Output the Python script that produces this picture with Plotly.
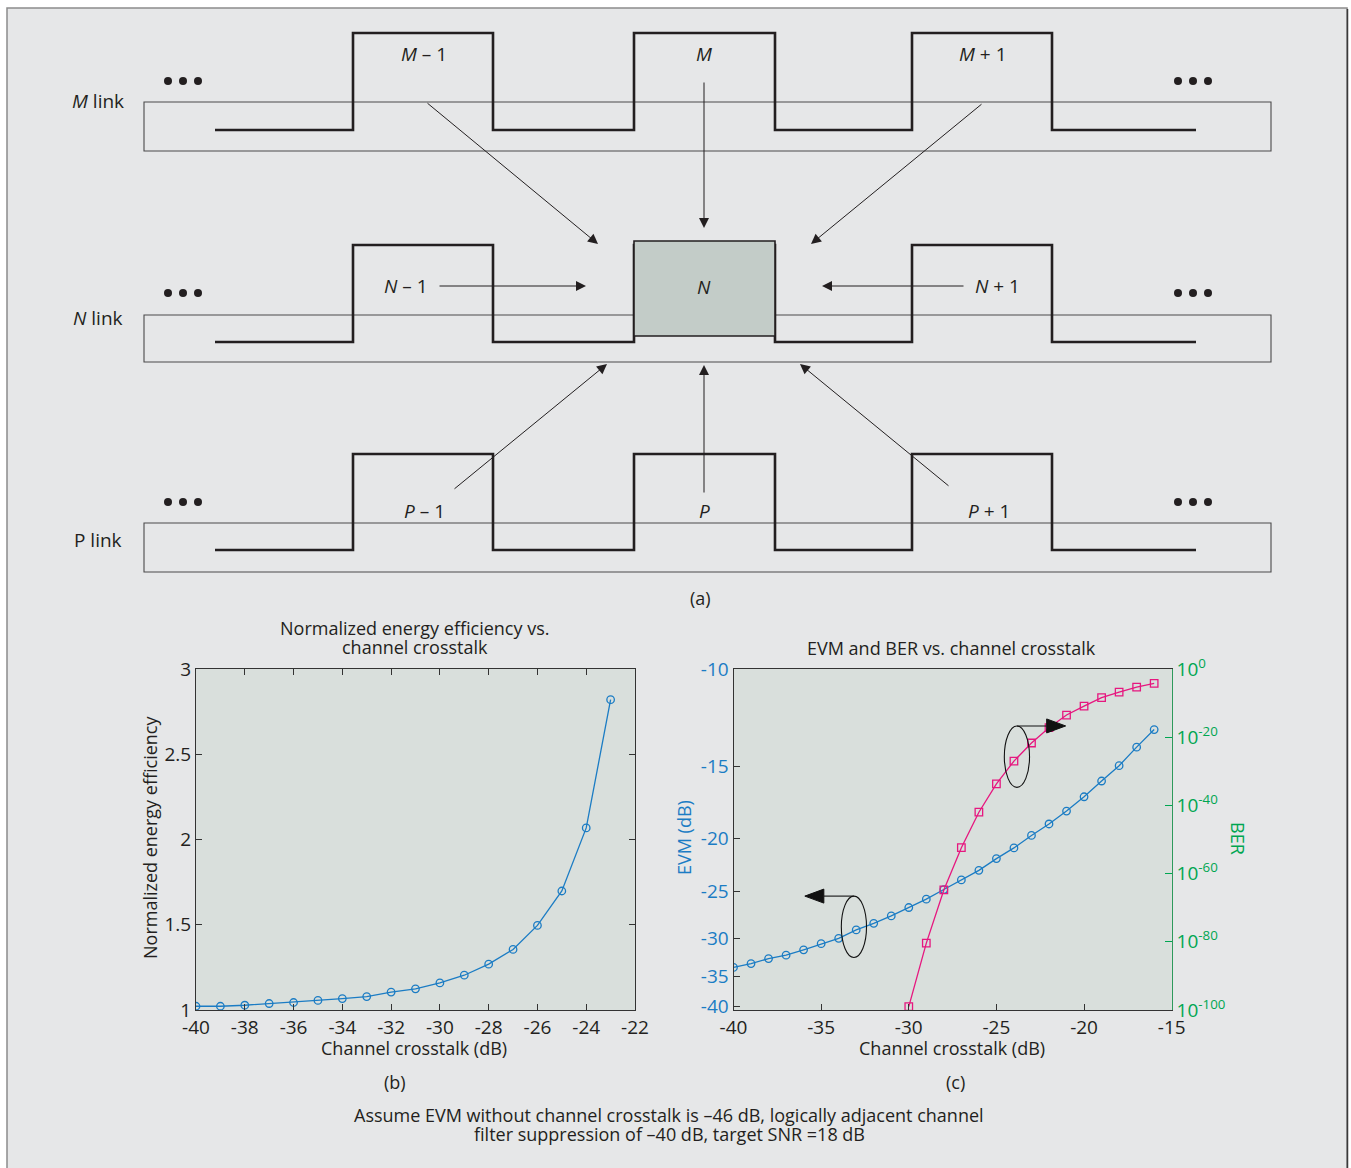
import numpy as np
import plotly.graph_objects as go

W, H = 1351, 1168
FONT = "Open Sans"
INK = "#231f20"
BLUE = "#1b7cc4"
PINK = "#e6177f"
GREEN = "#00a651"
PANEL = "#e6e7e8"
PLOTBG = "#d9dfdc"

# ---------------- data: panel (b) ----------------
crosstalk_b = [-40, -39, -38, -37, -36, -35, -34, -33, -32, -31, -30, -29, -28, -27, -26, -25, -24, -23]
energy_eff = [1.022, 1.022, 1.028, 1.038, 1.044, 1.056, 1.067, 1.079, 1.105, 1.124,
              1.159, 1.204, 1.269, 1.355, 1.496, 1.698, 2.068, 2.820]
b_xticks = [-40, -38, -36, -34, -32, -30, -28, -26, -24, -22]
b_xticktext = ["-40", "-38", "-36", "-34", "-32", "-30", "-28", "-26", "-24", "-22"]
b_yticks = [1, 1.5, 2, 2.5, 3]
b_yticktext = ["1", "1.5", "2", "2.5", "3"]

# ---------------- data: panel (c) ----------------
crosstalk_evm = list(range(-40, -15))
evm_db = [-33.8, -33.3, -32.65, -32.2, -31.5, -30.7, -30.0, -29.1, -28.4, -27.6, -26.7, -25.8,
          -24.8, -23.9, -23.0, -21.9, -20.9, -19.8, -19.0, -18.1, -17.1, -16.0, -14.95, -14.0, -13.1]
crosstalk_ber = list(range(-30, -15))
ber_log10 = [-99.0, -80.4, -64.8, -52.4, -42.0, -33.7, -27.0, -21.7, -17.2, -13.5, -10.9, -8.4,
             -6.8, -5.3, -4.2]
c_xticks = [-40, -35, -30, -25, -20, -15]
c_xticktext = ["-40", "-35", "-30", "-25", "-20", "-15"]
# the EVM axis of the original is non-uniform: dB labels at these relative heights
evm_tick_db = [-40, -35, -30, -25, -20, -15, -10]
evm_tick_pos = [0.0098, 0.0978, 0.2103, 0.347, 0.5035, 0.7135, 1.0]
evm_tick_text = ["-40", "-35", "-30", "-25", "-20", "-15", "-10"]
ber_tickvals = [1e0, 1e-20, 1e-40, 1e-60, 1e-80, 1e-100]
ber_ticktext = ["10<sup>0</sup>", "10<sup>-20</sup>", "10<sup>-40</sup>", "10<sup>-60</sup>",
                "10<sup>-80</sup>", "10<sup>-100</sup>"]

# ---------------- diagram (a) geometry ----------------
wave_start, wave_end = 215, 1196
slot_edges = [353, 493, 634, 775, 912, 1052]
rows = {  # name: (pulse high, pulse low, link box top, link box bottom, dots y)
    "M": (33, 130, 102, 151, 81),
    "N": (245, 342, 315, 362, 293),
    "P": (454, 550, 523, 572, 502),
}
link_x0, link_x1 = 144, 1271
dots_left = [168, 183, 198]
dots_right = [1178, 1193, 1208]


def px(x):
    return x / W


def py(y):
    return 1 - y / H


def evm_pos(v):
    return np.interp(v, evm_tick_db, evm_tick_pos)


fig = go.Figure()

# panel (b)
fig.add_trace(go.Scatter(x=crosstalk_b, y=energy_eff, xaxis="x", yaxis="y", mode="lines+markers",
                         line=dict(color=BLUE, width=1.3),
                         marker=dict(symbol="circle-open", size=7.5, color=BLUE, line=dict(width=1.3))))
# panel (c)
fig.add_trace(go.Scatter(x=crosstalk_evm, y=evm_pos(evm_db), xaxis="x2", yaxis="y2",
                         mode="lines+markers", line=dict(color=BLUE, width=1.3),
                         marker=dict(symbol="circle-open", size=7.5, color=BLUE, line=dict(width=1.3))))
fig.add_trace(go.Scatter(x=crosstalk_ber, y=[10 ** v for v in ber_log10], xaxis="x2", yaxis="y3",
                         mode="lines+markers", line=dict(color=PINK, width=1.3),
                         marker=dict(symbol="square-open", size=7.5, color=PINK, line=dict(width=1.3))))

# diagram waveforms
for name, (hi, lo, bt, bb, dy) in rows.items():
    xs, ys = [wave_start], [lo]
    level = lo
    for e in slot_edges:
        xs += [e, e]
        nxt = hi if level == lo else lo
        ys += [level, nxt]
        level = nxt
    xs.append(wave_end)
    ys.append(level)
    fig.add_trace(go.Scatter(x=xs, y=ys, xaxis="x4", yaxis="y4", mode="lines",
                             line=dict(color=INK, width=2.6), hoverinfo="skip"))
    fig.add_trace(go.Scatter(x=dots_left + dots_right, y=[dy] * 6, xaxis="x4", yaxis="y4",
                             mode="markers", marker=dict(color=INK, size=8), hoverinfo="skip"))

shapes = []
# outer frame (grey panel on white page)
shapes.append(dict(type="rect", xref="paper", yref="paper", x0=px(7), x1=px(1347), y0=py(1185), y1=py(8),
                   line=dict(color="#8c8c8c", width=1.5), fillcolor=PANEL, layer="below"))
shapes.append(dict(type="line", xref="paper", yref="paper", x0=px(1347.5), x1=px(1347.5), y0=py(1185), y1=py(9),
                   line=dict(color="#3a3a3a", width=1.5), layer="below"))
# plot backgrounds
for xr, yr in [("x domain", "y domain"), ("x2 domain", "y2 domain")]:
    shapes.append(dict(type="rect", xref=xr, yref=yr, x0=0, x1=1, y0=0, y1=1, fillcolor=PLOTBG,
                       line=dict(width=0), layer="below"))
# link boxes
for name, (hi, lo, bt, bb, dy) in rows.items():
    shapes.append(dict(type="rect", xref="x4", yref="y4", x0=link_x0, x1=link_x1, y0=bt, y1=bb,
                       line=dict(color="#4a4a4a", width=1.1), layer="below"))
# N highlighted slot
shapes.append(dict(type="rect", xref="x4", yref="y4", x0=634, x1=775, y0=241, y1=336,
                   fillcolor="#c3ccc8", line=dict(color=INK, width=1.6), layer="above"))

# panel (c) ellipses and block arrows
ux = 25 / 438.2   # data units per px on x2
up = 1 / 341.0    # units per px on y2
for cx, cy, tipx, direction in [(-33.13, 0.244, -35.93, -1), (-23.83, 0.743, -21.05, 1)]:
    shapes.append(dict(type="circle", xref="x2", yref="y2", x0=cx - 12.6 * ux, x1=cx + 12.6 * ux,
                       y0=cy - 30.7 * up, y1=cy + 30.7 * up, line=dict(color="#111", width=1.1)))
    top = cy + 30.7 * up
    base = tipx - direction * 19 * ux
    shapes.append(dict(type="line", xref="x2", yref="y2", x0=cx, x1=base, y0=top, y1=top,
                       line=dict(color="#111", width=1.1)))
    shapes.append(dict(type="path", xref="x2", yref="y2",
                       path=f"M {base} {top - 7 * up} L {tipx} {top} L {base} {top + 7 * up} Z",
                       fillcolor="#111", line=dict(color="#111", width=1)))

annotations = []


def txt(x, y, s, size=19, color=INK, angle=0, ref="x4"):
    d = dict(text=s, showarrow=False, xanchor="center", yanchor="middle",
             font=dict(family=FONT, size=size, color=color), textangle=angle)
    if ref == "x4":
        d.update(x=x, y=y, xref="x4", yref="y4")
    else:
        d.update(x=px(x), y=py(y), xref="paper", yref="paper")
    annotations.append(d)


# diagram labels
txt(98, 101, "<i>M</i> link")
txt(98, 318, "<i>N</i> link")
txt(98, 540, "P link")
txt(424, 54, "<i>M</i> – 1")
txt(704, 54, "<i>M</i>")
txt(983, 54, "<i>M</i> + 1")
txt(406, 286, "<i>N</i> – 1")
txt(704, 287, "<i>N</i>")
txt(997, 286, "<i>N</i> + 1")
txt(424, 511, "<i>P</i> – 1")
txt(704, 511, "<i>P</i>")
txt(989, 511, "<i>P</i> + 1")
txt(700, 598, "(a)", size=18)

# diagram arrows (tail -> tip)
arrows = [((426, 102), (598, 244)), ((704, 81), (704, 228)), ((983, 103), (811, 244)),
          ((438, 286), (586, 286)), ((965, 286), (822, 286)),
          ((453, 490), (607, 364)), ((704, 494), (704, 365)), ((950, 487), (800, 364))]
for (tx, ty), (hx, hy) in arrows:
    annotations.append(dict(x=hx, y=hy, ax=tx, ay=ty, xref="x4", yref="y4", axref="x4", ayref="y4",
                            text="", showarrow=True, arrowhead=2, arrowsize=2, arrowwidth=1,
                            arrowcolor=INK, standoff=0))

# panel titles and axis titles
txt(415, 628, "Normalized energy efficiency vs.", size=18, ref="paper")
txt(415, 647, "channel crosstalk", size=18, ref="paper")
txt(952, 648, "EVM and BER vs. channel crosstalk", size=18, ref="paper")
txt(150, 838, "Normalized energy efficiency", size=18, angle=-90, ref="paper")
txt(684, 838, "EVM (dB)", size=18, color=BLUE, angle=-90, ref="paper")
txt(1238, 838, "BER", size=18, color=GREEN, angle=90, ref="paper")
txt(414, 1048, "Channel crosstalk (dB)", size=18, ref="paper")
txt(952, 1048, "Channel crosstalk (dB)", size=18, ref="paper")
txt(395, 1082, "(b)", size=18, ref="paper")
txt(955, 1082, "(c)", size=18, ref="paper")
txt(669, 1115, "Assume EVM without channel crosstalk is –46 dB, logically adjacent channel", size=18, ref="paper")
txt(669, 1134, "filter suppression of –40 dB, target SNR =18 dB", size=18, ref="paper")

ydom = [py(1010), py(669)]
common_ax = dict(showgrid=False, zeroline=False, showline=True, linecolor="#333", linewidth=1,
                 ticks="inside", ticklen=6, tickcolor="#333", fixedrange=True)

fig.update_layout(
    width=W, height=H, autosize=False,
    margin=dict(l=0, r=0, t=0, b=0, pad=0, autoexpand=False),
    paper_bgcolor="white", plot_bgcolor="white", showlegend=False,
    font=dict(family=FONT, color=INK),
    xaxis=dict(domain=[px(196), px(635)], range=[-40, -22], anchor="y", tickvals=b_xticks,
               ticktext=b_xticktext, mirror="allticks", tickfont=dict(size=19, color=INK), **common_ax),
    yaxis=dict(domain=ydom, range=[1, 3], anchor="x", tickvals=b_yticks, ticktext=b_yticktext,
               mirror="allticks", tickfont=dict(size=19, color=INK), **common_ax),
    xaxis2=dict(domain=[px(733.5), px(1171.7)], range=[-40, -15], anchor="y2", tickvals=c_xticks,
                ticktext=c_xticktext, mirror=True, tickfont=dict(size=19, color=INK), **common_ax),
    yaxis2=dict(domain=ydom, range=[0, 1], anchor="x2", tickvals=evm_tick_pos, ticktext=evm_tick_text,
                tickfont=dict(size=19, color=BLUE), **common_ax),
    yaxis3=dict(overlaying="y2", side="right", anchor="x2", type="log", range=[-100, 0],
                tickvals=ber_tickvals, ticktext=ber_ticktext, showgrid=False, zeroline=False,
                showline=True, linecolor="#2e9a5c", linewidth=1.2, ticks="inside", ticklen=7,
                tickcolor=GREEN, tickfont=dict(size=19, color=GREEN), fixedrange=True),
    xaxis4=dict(domain=[0, 1], range=[0, W], anchor="y4", visible=False, fixedrange=True),
    yaxis4=dict(domain=[py(612), 1], range=[612, 0], anchor="x4", visible=False, fixedrange=True),
    shapes=shapes, annotations=annotations,
)

fig.write_html("out.html", config={"displayModeBar": False},
               post_script="document.body.style.margin='0';document.body.style.overflow='hidden';")
